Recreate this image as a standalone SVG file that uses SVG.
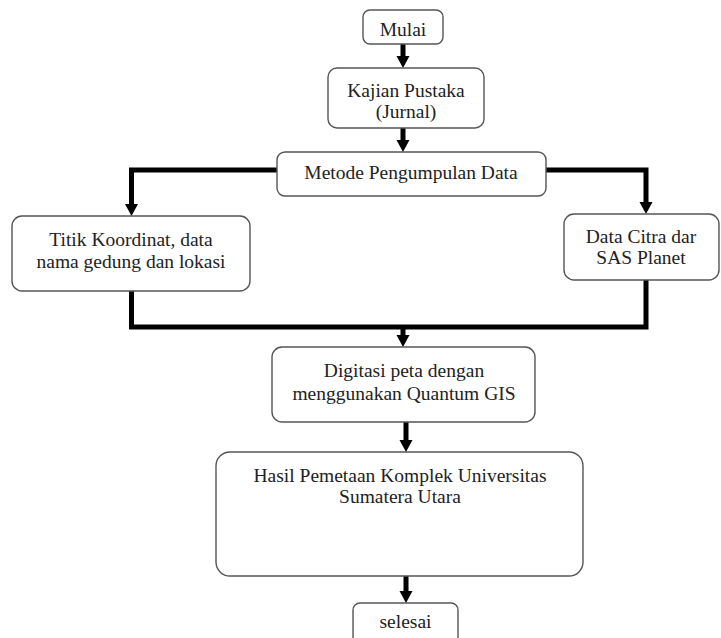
<svg xmlns="http://www.w3.org/2000/svg" width="721" height="638" viewBox="0 0 721 638">
<defs>
<style>
.box{fill:#fff;stroke:#555;stroke-width:1.4}
.t{font-family:"Liberation Serif","Times New Roman",serif;font-size:19.5px;fill:#222;text-anchor:middle}
.c{fill:none;stroke:#000;stroke-width:5}
</style>
<marker id="ah" viewBox="0 0 13 12" refX="6.5" refY="12" markerWidth="13" markerHeight="12" markerUnits="userSpaceOnUse" orient="auto-start-reverse">
<path d="M0,0 L13,0 L6.5,12 Z" fill="#000"/>
</marker>
</defs>
<rect width="721" height="638" fill="#fff"/>
<g id="connectors">
<path class="c" d="M403,44 V57"/><path d="M396.5,56 H409.5 L403,68 Z"/>
<path class="c" d="M403,128 V141"/><path d="M396.5,140 H409.5 L403,152 Z"/>
<path class="c" d="M277,170 H131.5 V206"/><path d="M125,204 H138 L131.5,216 Z"/>
<path class="c" d="M546,170 H646 V204"/><path d="M639.5,202 H652.5 L646,214 Z"/>
<path class="c" d="M131.5,291 V327 H646 V280"/>
<path class="c" d="M403,327 V336"/><path d="M396.5,335 H409.5 L403,347 Z"/>
<path class="c" d="M406,422 V441"/><path d="M399.5,440 H412.5 L406,452 Z"/>
<path class="c" d="M406,576 V592"/><path d="M399.5,591 H412.5 L406,603 Z"/>
</g>
<g id="mulai"><rect class="box" x="363" y="10" width="80" height="34" rx="7"/><text class="t" x="403" y="36">Mulai</text></g>
<g id="kajian"><rect class="box" x="328" y="68" width="156" height="60" rx="9"/><text class="t" x="406" y="97">Kajian Pustaka</text><text class="t" x="406" y="118">(Jurnal)</text></g>
<g id="metode"><rect class="box" x="277" y="152" width="269" height="44" rx="8"/><text class="t" x="411" y="179">Metode Pengumpulan Data</text></g>
<g id="titik"><rect class="box" x="12" y="216" width="238" height="75" rx="10"/><text class="t" x="131" y="246">Titik Koordinat, data</text><text class="t" x="131" y="268">nama gedung dan lokasi</text></g>
<g id="citra"><rect class="box" x="564" y="214" width="155" height="66" rx="10"/><text class="t" x="641" y="243">Data Citra dar</text><text class="t" x="641" y="264">SAS Planet</text></g>
<g id="digitasi"><rect class="box" x="272" y="347" width="263" height="75" rx="10"/><text class="t" x="404" y="377">Digitasi peta dengan</text><text class="t" x="404" y="400">menggunakan Quantum GIS</text></g>
<g id="hasil"><rect class="box" x="216" y="452" width="367" height="124" rx="14"/><text class="t" x="400" y="482">Hasil Pemetaan Komplek Universitas</text><text class="t" x="400" y="503">Sumatera Utara</text></g>
<g id="selesai"><rect class="box" x="353" y="603" width="105" height="50" rx="7"/><text class="t" x="405.5" y="628">selesai</text></g>
</svg>
